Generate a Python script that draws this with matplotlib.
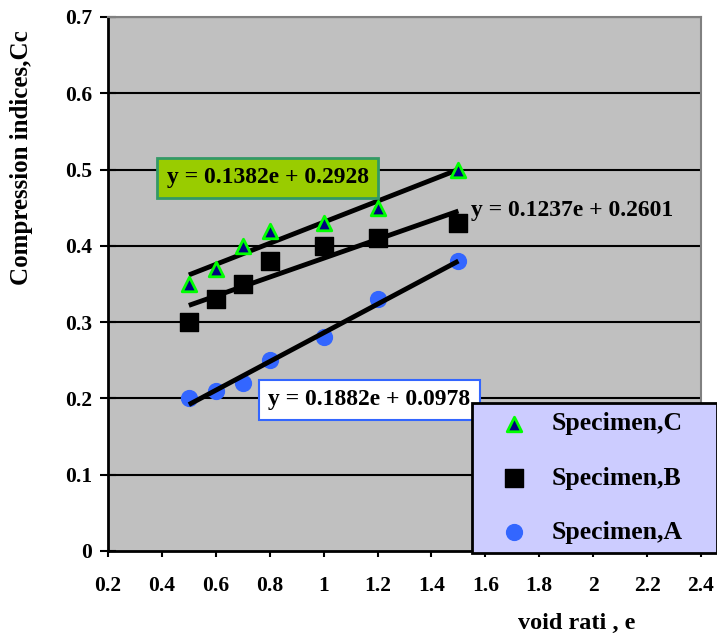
import matplotlib
matplotlib.use("Agg")
import matplotlib.pyplot as plt
import numpy as np

plt.rcParams['font.family'] = ['Liberation Serif', 'DejaVu Serif']
plt.rcParams['font.weight'] = 'bold'

void_ratio = [0.5, 0.6, 0.7, 0.8, 1.0, 1.2, 1.5]
spec_c = [0.35, 0.37, 0.40, 0.42, 0.43, 0.45, 0.50]
spec_b = [0.30, 0.33, 0.35, 0.38, 0.40, 0.41, 0.43]
spec_a = [0.20, 0.21, 0.22, 0.25, 0.28, 0.33, 0.38]

slope_c, icpt_c = 0.1382, 0.2928
slope_b, icpt_b = 0.1237, 0.2601
slope_a, icpt_a = 0.1882, 0.0978

x_ticks = [0.2, 0.4, 0.6, 0.8, 1.0, 1.2, 1.4, 1.6, 1.8, 2.0, 2.2, 2.4]
x_tick_labels = ['0.2', '0.4', '0.6', '0.8', '1', '1.2', '1.4', '1.6', '1.8', '2', '2.2', '2.4']
y_ticks = [0, 0.1, 0.2, 0.3, 0.4, 0.5, 0.6, 0.7]
y_tick_labels = ['0', '0.1', '0.2', '0.3', '0.4', '0.5', '0.6', '0.7']

fig = plt.figure(figsize=(7.17, 6.39), dpi=100)
ax = fig.add_axes([108/717, 1-551/639, (701-108)/717, (551-17)/639])
ax.set_facecolor('#C0C0C0')
ax.set_xlim(0.2, 2.4)
ax.set_ylim(0, 0.7)

for yv in y_ticks[1:]:
    ax.axhline(yv, color='black', lw=1.5, zorder=1)

xs = np.array([void_ratio[0], void_ratio[-1]])
for s, b in [(slope_c, icpt_c), (slope_b, icpt_b), (slope_a, icpt_a)]:
    ax.plot(xs, s*xs + b, color='black', lw=3.5, zorder=3, solid_capstyle='butt')

hc = ax.scatter(void_ratio, spec_c, marker='^', s=110, facecolor='#000080',
                edgecolor='#00FF00', linewidth=2, zorder=4, label='Specimen,C')
hb = ax.scatter(void_ratio, spec_b, marker='s', s=150, facecolor='black',
                edgecolor='black', zorder=4, label='Specimen,B')
ha = ax.scatter(void_ratio, spec_a, marker='o', s=130, facecolor='#3366FF',
                edgecolor='#3366FF', zorder=2, label='Specimen,A')

ax.set_xticks(x_ticks)
ax.set_xticklabels(x_tick_labels)
ax.set_yticks(y_ticks)
ax.set_yticklabels(y_tick_labels)
ax.tick_params(axis='both', labelsize=15.5, width=1.5, color='black')
ax.tick_params(axis='x', direction='out', length=4, pad=14)
ax.tick_params(axis='y', direction='inout', length=11, pad=6)
for lab in ax.get_xticklabels() + ax.get_yticklabels():
    lab.set_fontweight('bold')

for side in ['top', 'right']:
    ax.spines[side].set_color('#808080')
    ax.spines[side].set_linewidth(1.5)
for side in ['left', 'bottom']:
    ax.spines[side].set_color('black')
    ax.spines[side].set_linewidth(2)

fig.text(577/717, 1-623/639, 'void rati , e', ha='center', va='center',
         fontsize=17.5, fontweight='bold')
fig.text(22/717, 1-158/639, 'Compression indices,Cc', ha='center', va='center',
         rotation=90, fontsize=18, fontweight='bold')

ax.text(0.418, 0.489, 'y = 0.1382e + 0.2928', fontsize=17, fontweight='bold',
        va='center', ha='left', zorder=6,
        bbox=dict(boxstyle='square,pad=0.4', facecolor='#99CC00',
                  edgecolor='#339966', linewidth=2))
ax.text(1.548, 0.447, 'y = 0.1237e + 0.2601', fontsize=17, fontweight='bold',
        va='center', ha='left', zorder=6)
ax.text(0.795, 0.198, 'y = 0.1882e + 0.0978', fontsize=17, fontweight='bold',
        va='center', ha='left', zorder=6,
        bbox=dict(boxstyle='square,pad=0.4', facecolor='white',
                  edgecolor='#3366FF', linewidth=1.5))

leg = fig.legend(handles=[hc, hb, ha], loc='lower left',
                 bbox_to_anchor=(472/717, 1-553/639, (717-472)/717, (553-403)/639),
                 mode='expand', frameon=True, fancybox=False, framealpha=1,
                 facecolor='#CCCCFF', edgecolor='black', fontsize=18.5,
                 labelspacing=1.22, borderpad=0.35, handlelength=2.6,
                 handletextpad=0.15, borderaxespad=0)
leg.get_frame().set_linewidth(2)
leg.set_zorder(10)
for t in leg.get_texts():
    t.set_fontweight('bold')

fig.savefig('out.png', dpi=100)
